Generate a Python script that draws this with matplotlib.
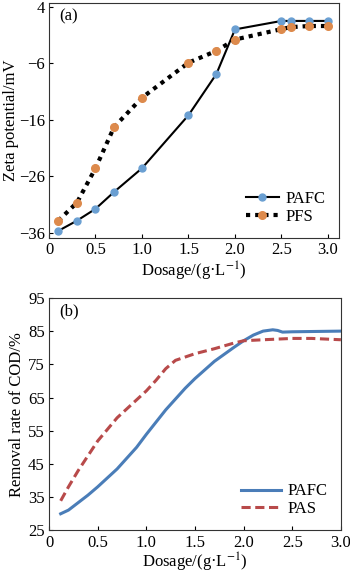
import matplotlib
matplotlib.use("Agg")
import matplotlib.pyplot as plt

plt.rcParams['font.family'] = ['Liberation Serif', 'DejaVu Serif']
plt.rcParams['font.size'] = 12
plt.rcParams['mathtext.fontset'] = 'stix'

# (a) zeta potential
dose_a = [0.1, 0.3, 0.5, 0.7, 1.0, 1.5, 1.8, 2.0, 2.5, 2.6, 2.8, 3.0]
zeta_pafc = [-35.7, -33.9, -31.8, -28.8, -24.6, -15.2, -7.9, 0.0, 1.5, 1.5, 1.5, 1.5]
zeta_pfs = [-33.9, -30.7, -24.6, -17.3, -12.1, -5.9, -3.8, -1.8, 0.05, 0.4, 0.6, 0.6]

# (b) COD removal
dose_b1 = [0.12, 0.2, 0.4, 0.5, 0.7, 0.9, 1.0, 1.2, 1.4, 1.5, 1.7, 1.9, 2.0, 2.1, 2.2,
           2.3, 2.35, 2.4, 2.5, 3.0]
cod_pafc = [30.0, 31.1, 35.6, 38.1, 43.5, 50.0, 53.9, 61.3, 67.8, 70.7, 75.9, 80.1, 82.1,
            83.8, 85.0, 85.4, 85.2, 84.7, 84.8, 85.0]
dose_b2 = [0.12, 0.2, 0.3, 0.5, 0.7, 0.9, 1.0, 1.1, 1.2, 1.3, 1.5, 1.7, 1.9, 2.0, 2.2,
           2.5, 2.7, 3.0]
cod_pas = [33.9, 38.1, 43.0, 51.9, 58.9, 64.3, 67.0, 70.2, 73.7, 76.2, 78.2, 79.7, 81.4,
           82.1, 82.4, 82.8, 82.8, 82.4]

fig = plt.figure(figsize=(3.5, 5.74), dpi=100)
ax1 = fig.add_axes([0.14, 0.585, 0.829, 0.41])
ax2 = fig.add_axes([0.14, 0.076, 0.834, 0.405])

blue_m = '#6a9fd2'
orange_m = '#dd8a4c'

ax1.plot(dose_a, zeta_pafc, color='black', lw=1.5, marker='o', ms=5,
         mfc=blue_m, mec=blue_m, label='PAFC')
ax1.plot(dose_a, zeta_pfs, color='black', lw=3, linestyle=(0, (1, 1.2)), marker='o', ms=5.5,
         mfc=orange_m, mec=orange_m, label='PFS')
ax1.set_xlim(0, 3.12)
ax1.set_ylim(-37, 4.7)
ax1.set_yticks([4, -6, -16, -26, -36])
ax1.set_xticks([0, 0.5, 1.0, 1.5, 2.0, 2.5, 3.0])
ax1.set_xticklabels(['0', '0.5', '1.0', '1.5', '2.0', '2.5', '3.0'])
ax1.set_xlabel('Dosage/(g·L$^{-1}$)', labelpad=1)
ax1.set_ylabel('Zeta potential/mV', labelpad=0)
ax1.text(0.035, 0.975, '(a)', transform=ax1.transAxes, va='top', ha='left')
ax1.legend(loc='lower right', frameon=False, handlelength=2.0, borderaxespad=0.4,
           labelspacing=0.1, handletextpad=0.4)

ax2.plot(dose_b1, cod_pafc, color='#4a7db8', lw=2.2, label='PAFC')
ax2.plot(dose_b2, cod_pas, color='#b84a4a', lw=2.2, linestyle=(0, (3, 1.5)), label='PAS')
ax2.set_xlim(0, 3.0)
ax2.set_ylim(25, 95)
ax2.set_yticks([25, 35, 45, 55, 65, 75, 85, 95])
ax2.set_xticks([0, 0.5, 1.0, 1.5, 2.0, 2.5, 3.0])
ax2.set_xticklabels(['0', '0.5', '1.0', '1.5', '2.0', '2.5', '3.0'])
ax2.set_xlabel('Dosage/(g·L$^{-1}$)', labelpad=0)
ax2.set_ylabel('Removal rate of COD/%', labelpad=2)
ax2.text(0.035, 0.975, '(b)', transform=ax2.transAxes, va='top', ha='left')
ax2.legend(loc='lower right', frameon=False, handlelength=2.4, borderaxespad=0.4,
           labelspacing=0.1, handletextpad=0.4)

for ax in (ax1, ax2):
    ax.tick_params(direction='in', length=3, width=0.8, pad=3)
    for s in ax.spines.values():
        s.set_linewidth(0.8)
        s.set_color('#333333')

fig.savefig('out.png', dpi=100)
